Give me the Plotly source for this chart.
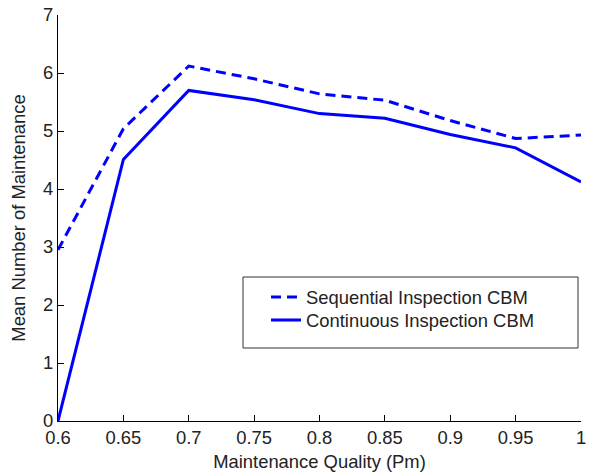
import plotly.graph_objects as go

pm = [0.6, 0.65, 0.7, 0.75, 0.8, 0.85, 0.9, 0.95, 1.0]
sequential = [2.95, 5.04, 6.12, 5.90, 5.64, 5.53, 5.18, 4.87, 4.93]
continuous = [0.0, 4.51, 5.70, 5.54, 5.30, 5.22, 4.94, 4.71, 4.12]

x_ticks = [0.6, 0.65, 0.7, 0.75, 0.8, 0.85, 0.9, 0.95, 1.0]
x_labels = ["0.6", "0.65", "0.7", "0.75", "0.8", "0.85", "0.9", "0.95", "1"]
y_ticks = [0, 1, 2, 3, 4, 5, 6, 7]

FONT = "Arial, Liberation Sans, sans-serif"
TXT = "#222222"
FS = 18.4

# page body has an 8px margin, so the figure is drawn 8px in from the corner
OFF = 8
L, R, T, B = 58 - OFF, 14, 15 - OFF, 53
W, H = 595 - OFF, 474 - OFF
PW = W - L - R
PH = H - T - B
X0 = 58
Y0 = 421


def px(x):
    return (x - X0) / PW


def py(y):
    return (Y0 - y) / PH


fig = go.Figure()
fig.add_trace(go.Scatter(x=pm, y=sequential, mode="lines",
                         name="Sequential Inspection CBM", legend="legend",
                         line=dict(color="#0000ff", width=3, dash="10px,6px")))
fig.add_trace(go.Scatter(x=pm, y=continuous, mode="lines",
                         name="Continuous Inspection CBM", legend="legend2",
                         line=dict(color="#0000ff", width=3)))

# legend frame
fig.add_shape(type="rect", xref="paper", yref="paper",
              x0=px(243), x1=px(578), y0=py(348), y1=py(277),
              line=dict(color="#333333", width=1), fillcolor="white", layer="below")

leg_common = dict(xanchor="left", yanchor="middle", bgcolor="rgba(0,0,0,0)",
                  borderwidth=0, font=dict(family=FONT, size=FS, color=TXT))

fig.update_layout(
    width=W, height=H,
    margin=dict(l=L, r=R, t=T, b=B),
    paper_bgcolor="white", plot_bgcolor="white",
    font=dict(family=FONT, size=FS, color=TXT),
    showlegend=True,
    legend=dict(x=px(266), y=py(297), **leg_common),
    legend2=dict(x=px(266), y=py(320), **leg_common),
    xaxis=dict(range=[0.6, 1.0], tickvals=x_ticks, ticktext=x_labels,
               showgrid=False, zeroline=False, showline=True, linecolor="black",
               linewidth=1, ticks="inside", ticklen=6, tickcolor="black",
               ticklabeloverflow="allow",
               title=dict(text="Maintenance Quality (Pm)", standoff=8,
                          font=dict(family=FONT, size=FS, color=TXT)),
               automargin=False, mirror=False),
    yaxis=dict(range=[0, 7], tickvals=y_ticks,
               showgrid=False, zeroline=False, showline=True, linecolor="black",
               linewidth=1, ticks="inside", ticklen=6, tickcolor="black",
               ticklabeloverflow="allow",
               title=dict(text="Mean Number of Maintenance", standoff=14,
                          font=dict(family=FONT, size=FS, color=TXT)),
               automargin=False, mirror=False),
)

fig.write_html("out.html")
